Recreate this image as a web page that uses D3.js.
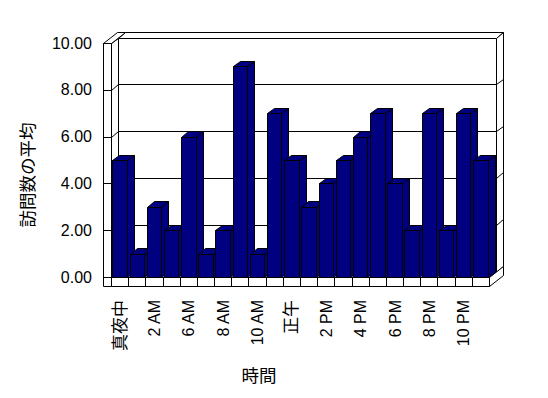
<!DOCTYPE html>
<html>
<head>
<meta charset="utf-8">
<script src="https://cdn.jsdelivr.net/npm/d3@7"></script>
<style>
  body { margin: 0; background: #fff; }
  text { font-family: "Liberation Sans", Arial, "Noto Sans CJK JP", sans-serif; fill: #000; }
</style>
</head>
<body>
<script>
// hours in the report (some early-morning hours have no data)
const hours = ["真夜中", "1 AM", "2 AM", "5 AM", "6 AM", "7 AM", "8 AM", "9 AM", "10 AM", "11 AM",
  "正午", "1 PM", "2 PM", "3 PM", "4 PM", "5 PM", "6 PM", "7 PM", "8 PM", "9 PM", "10 PM", "11 PM"];
const visits = [5, 1, 3, 2, 6, 1, 2, 9, 1, 7, 5, 3, 4, 5, 6, 7, 4, 2, 7, 2, 7, 5];
const yTicks = [0, 2, 4, 6, 8, 10];
const yTitle = "訪問数の平均";
const xTitle = "時間";

const width = 548, height = 398;
const navy = "#000080";

const svg = d3.select("body").append("svg")
  .attr("width", width)
  .attr("height", height);

const x = d3.scaleBand()
  .domain(hours)
  .range([111, 489])
  .paddingInner(0.16)
  .paddingOuter(0.08);

const y = d3.scaleLinear()
  .domain([0, 10])
  .range([277, 43]);

// oblique depth offset, wall and floor thickness
const dx = 7, dy = -5.5;
const slab = 8, floorH = 9;
const x0 = x.range()[0], x1 = x.range()[1];
const yTop = y(10), yBot = y(0);

const pts = p => p.map(([a, b]) => (Math.round(a) + 0.5) + "," + (Math.round(b) + 0.5)).join(" ");

function poly(g, p, fill) {
  return g.append("polygon")
    .attr("points", pts(p))
    .attr("fill", fill || "#fff")
    .attr("stroke", "#000")
    .attr("stroke-width", 1)
    .attr("stroke-linejoin", "miter");
}

function seg(g, a, b) {
  g.append("line")
    .attr("x1", Math.round(a[0]) + 0.5).attr("y1", Math.round(a[1]) + 0.5)
    .attr("x2", Math.round(b[0]) + 0.5).attr("y2", Math.round(b[1]) + 0.5)
    .attr("stroke", "#000");
}

const walls = svg.append("g");

// back wall
poly(walls, [[x0 + dx, yTop + dy], [x1 + dx, yTop + dy], [x1 + dx, yBot + dy], [x0 + dx, yBot + dy]]);
poly(walls, [[x0 + dx, yTop + dy], [x1 + dx, yTop + dy], [x1 + 2 * dx, yTop + 2 * dy], [x0 + 2 * dx, yTop + 2 * dy]]);
poly(walls, [[x1 + dx, yTop + dy], [x1 + 2 * dx, yTop + 2 * dy], [x1 + 2 * dx, yBot + 2 * dy], [x1 + dx, yBot + dy]]);

// left wall, inner face
poly(walls, [[x0, yTop], [x0 + dx, yTop + dy], [x0 + dx, yBot + dy], [x0, yBot]]);

yTicks.filter(v => v > 0 && v < 10).forEach(v => {
  seg(walls, [x0, y(v)], [x0 + dx, y(v) + dy]);
  seg(walls, [x0 + dx, y(v) + dy], [x1 + dx, y(v) + dy]);
  seg(walls, [x1 + dx, y(v) + dy], [x1 + 2 * dx, y(v) + 2 * dy]);
});

// left wall, top and front face
poly(walls, [[x0 - slab, yTop], [x0, yTop], [x0 + 2 * dx, yTop + 2 * dy], [x0 - slab + 2 * dx, yTop + 2 * dy]]);
poly(walls, [[x0 - slab, yTop], [x0, yTop], [x0, yBot + floorH], [x0 - slab, yBot + floorH]]);
yTicks.forEach(v => seg(walls, [x0 - slab, y(v)], [x0, y(v)]));

// floor
poly(walls, [[x0, yBot], [x1, yBot], [x1 + dx, yBot + dy], [x0 + dx, yBot + dy]]);
poly(walls, [[x0, yBot], [x1, yBot], [x1, yBot + floorH], [x0, yBot + floorH]]);
poly(walls, [[x1, yBot], [x1 + 2 * dx, yBot + 2 * dy], [x1 + 2 * dx, yBot + 2 * dy + floorH], [x1, yBot + floorH]]);
hours.slice(1).forEach(h => {
  const bx = x(h) - x.step() * x.paddingInner() / 2;
  seg(walls, [bx, yBot], [bx, yBot + floorH]);
});

// bars, left to right so each front covers the previous side
const w = x.bandwidth();
const bars = svg.append("g")
  .selectAll("g")
  .data(visits)
  .join("g");

bars.each(function (v, i) {
  const g = d3.select(this);
  const bx = x(hours[i]);
  const yt = y(v);
  poly(g, [[bx + w, yt], [bx + w + dx, yt + dy], [bx + w + dx, yBot + dy], [bx + w, yBot]], navy);
  poly(g, [[bx, yt], [bx + w, yt], [bx + w + dx, yt + dy], [bx + dx, yt + dy]], navy);
  poly(g, [[bx, yt], [bx + w, yt], [bx + w, yBot], [bx, yBot]], navy);
});

// y tick labels
svg.append("g")
  .selectAll("text")
  .data(yTicks)
  .join("text")
  .attr("x", 92)
  .attr("y", d => y(d))
  .attr("text-anchor", "end")
  .attr("dominant-baseline", "central")
  .attr("font-size", 16)
  .text(d => d3.format(".2f")(d));

// x tick labels, every other hour
const isCJK = s => /[^\x00-\x7f]/.test(s);
svg.append("g")
  .selectAll("text")
  .data(hours.filter((d, i) => i % 2 === 0))
  .join("text")
  .attr("transform", d => `translate(${x(d) + w / 2 + 0.5},300) rotate(-90)`)
  .attr("text-anchor", "end")
  .attr("dominant-baseline", "central")
  .attr("font-size", d => isCJK(d) ? 17 : 16)
  .text(d => d);

// axis titles
svg.append("text")
  .attr("transform", "translate(28,175) rotate(-90)")
  .attr("text-anchor", "middle")
  .attr("dominant-baseline", "central")
  .attr("font-size", 17.5)
  .text(yTitle);

svg.append("text")
  .attr("x", 259)
  .attr("y", 375.5)
  .attr("text-anchor", "middle")
  .attr("dominant-baseline", "central")
  .attr("font-size", 17.5)
  .text(xTitle);
</script>
</body>
</html>
